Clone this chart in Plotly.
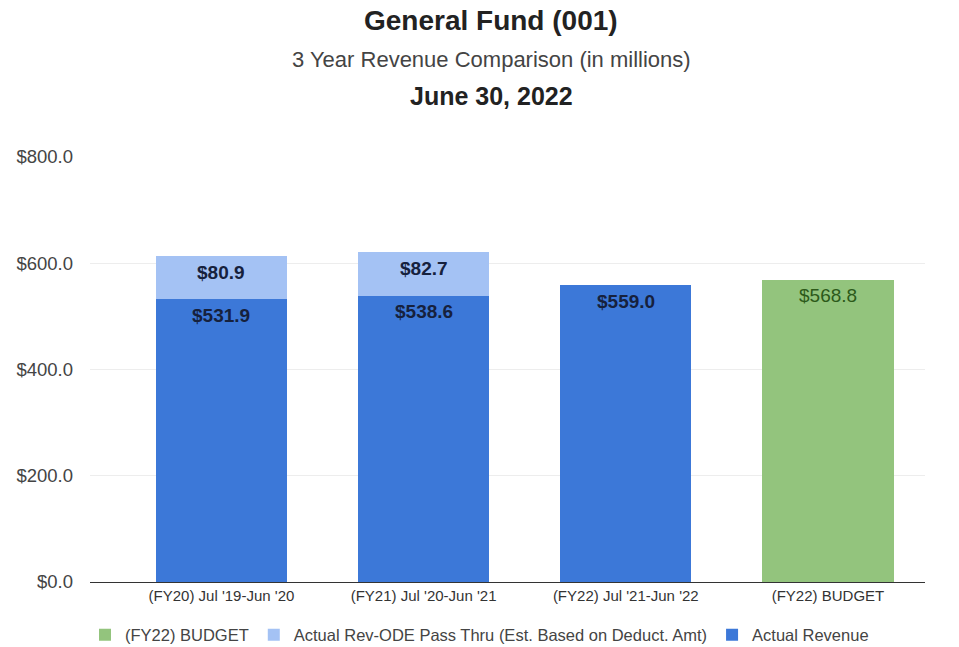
import plotly.graph_objects as go

categories = ["(FY20) Jul '19-Jun '20", "(FY21) Jul '20-Jun '21", "(FY22) Jul '21-Jun '22", "(FY22) BUDGET"]
actual_revenue = [531.9, 538.6, 559.0, None]
pass_thru = [80.9, 82.7, None, None]
budget = [None, None, None, 568.8]
y_ticks = [0, 200, 400, 600, 800]

def fmt(v):
    return f"${v:,.1f}"

FONT = "Liberation Sans, Arial, sans-serif"
BLUE_TXT = "#16213d"
W, H = 959, 647
M_T, M_B = 157, 65

fig = go.Figure()
fig.add_trace(go.Bar(
    x=categories, y=budget, name="(FY22) BUDGET", marker_color="#93c47d",
    legendrank=1,
))
fig.add_trace(go.Bar(
    x=categories, y=actual_revenue, name="Actual Revenue", marker_color="#3c78d8",
    legendrank=3,
))
fig.add_trace(go.Bar(
    x=categories, y=pass_thru, name="Actual Rev-ODE Pass Thru (Est. Based on Deduct. Amt)",
    marker_color="#a4c2f4", legendrank=2,
))
fig.update_traces(marker_line_width=0)

# value labels
for c, a, p in zip(categories, actual_revenue, pass_thru):
    if a is not None:
        fig.add_annotation(x=c, y=a, text=f"<b>{fmt(a)}</b>", showarrow=False,
                           yanchor="middle", yshift=-16,
                           font=dict(size=19, color=BLUE_TXT, family=FONT))
    if p is not None:
        fig.add_annotation(x=c, y=a + p / 2, text=f"<b>{fmt(p)}</b>", showarrow=False,
                           yanchor="middle", yshift=5,
                           font=dict(size=19, color=BLUE_TXT, family=FONT))
for c, v in zip(categories, budget):
    if v is not None:
        fig.add_annotation(x=c, y=v, text=fmt(v), showarrow=False,
                           yanchor="middle", yshift=-16,
                           font=dict(size=19, color="#2c5a1a", family=FONT))

fig.update_layout(
    width=W, height=H,
    barmode="stack", bargap=0.35,
    paper_bgcolor="white", plot_bgcolor="white",
    margin=dict(l=90, r=34, t=M_T, b=M_B, autoexpand=False),
    font=dict(family=FONT, color="#444444", size=14),
    showlegend=True,
    legend=dict(orientation="h", x=0.5, xanchor="center", xref="container",
                y=12 / H, yanchor="middle", yref="container",
                traceorder="normal", font=dict(size=16.5, color="#444444"),
                itemwidth=30),
)

for txt, yp, sz, col in [
    ("<b>General Fund (001)</b>", 20, 28, "#222222"),
    ("3 Year Revenue Comparison (in millions)", 60, 22, "#444444"),
    ("<b>June 30, 2022</b>", 96, 25, "#222222"),
]:
    fig.add_annotation(text=txt, x=(491 - 90) / (W - 90 - 34), xref="paper",
                       y=(H - M_B - yp) / (H - M_T - M_B), yref="paper",
                       xanchor="center", yanchor="middle", showarrow=False,
                       font=dict(size=sz, color=col, family=FONT))

fig.update_xaxes(range=[-0.65, 3.48], showgrid=False, showline=True, linecolor="#333333",
                 linewidth=1, ticks="", tickfont=dict(size=15, color="#333333"),
                 automargin=False)
fig.update_yaxes(range=[0, 800], tickvals=y_ticks, tickformat="$,.1f",
                 gridcolor="#ededed", zeroline=False, showline=False,
                 tickfont=dict(size=18.5, color="#444444"), ticklabelstandoff=16,
                 automargin=False)

fig.write_html("out.html")
